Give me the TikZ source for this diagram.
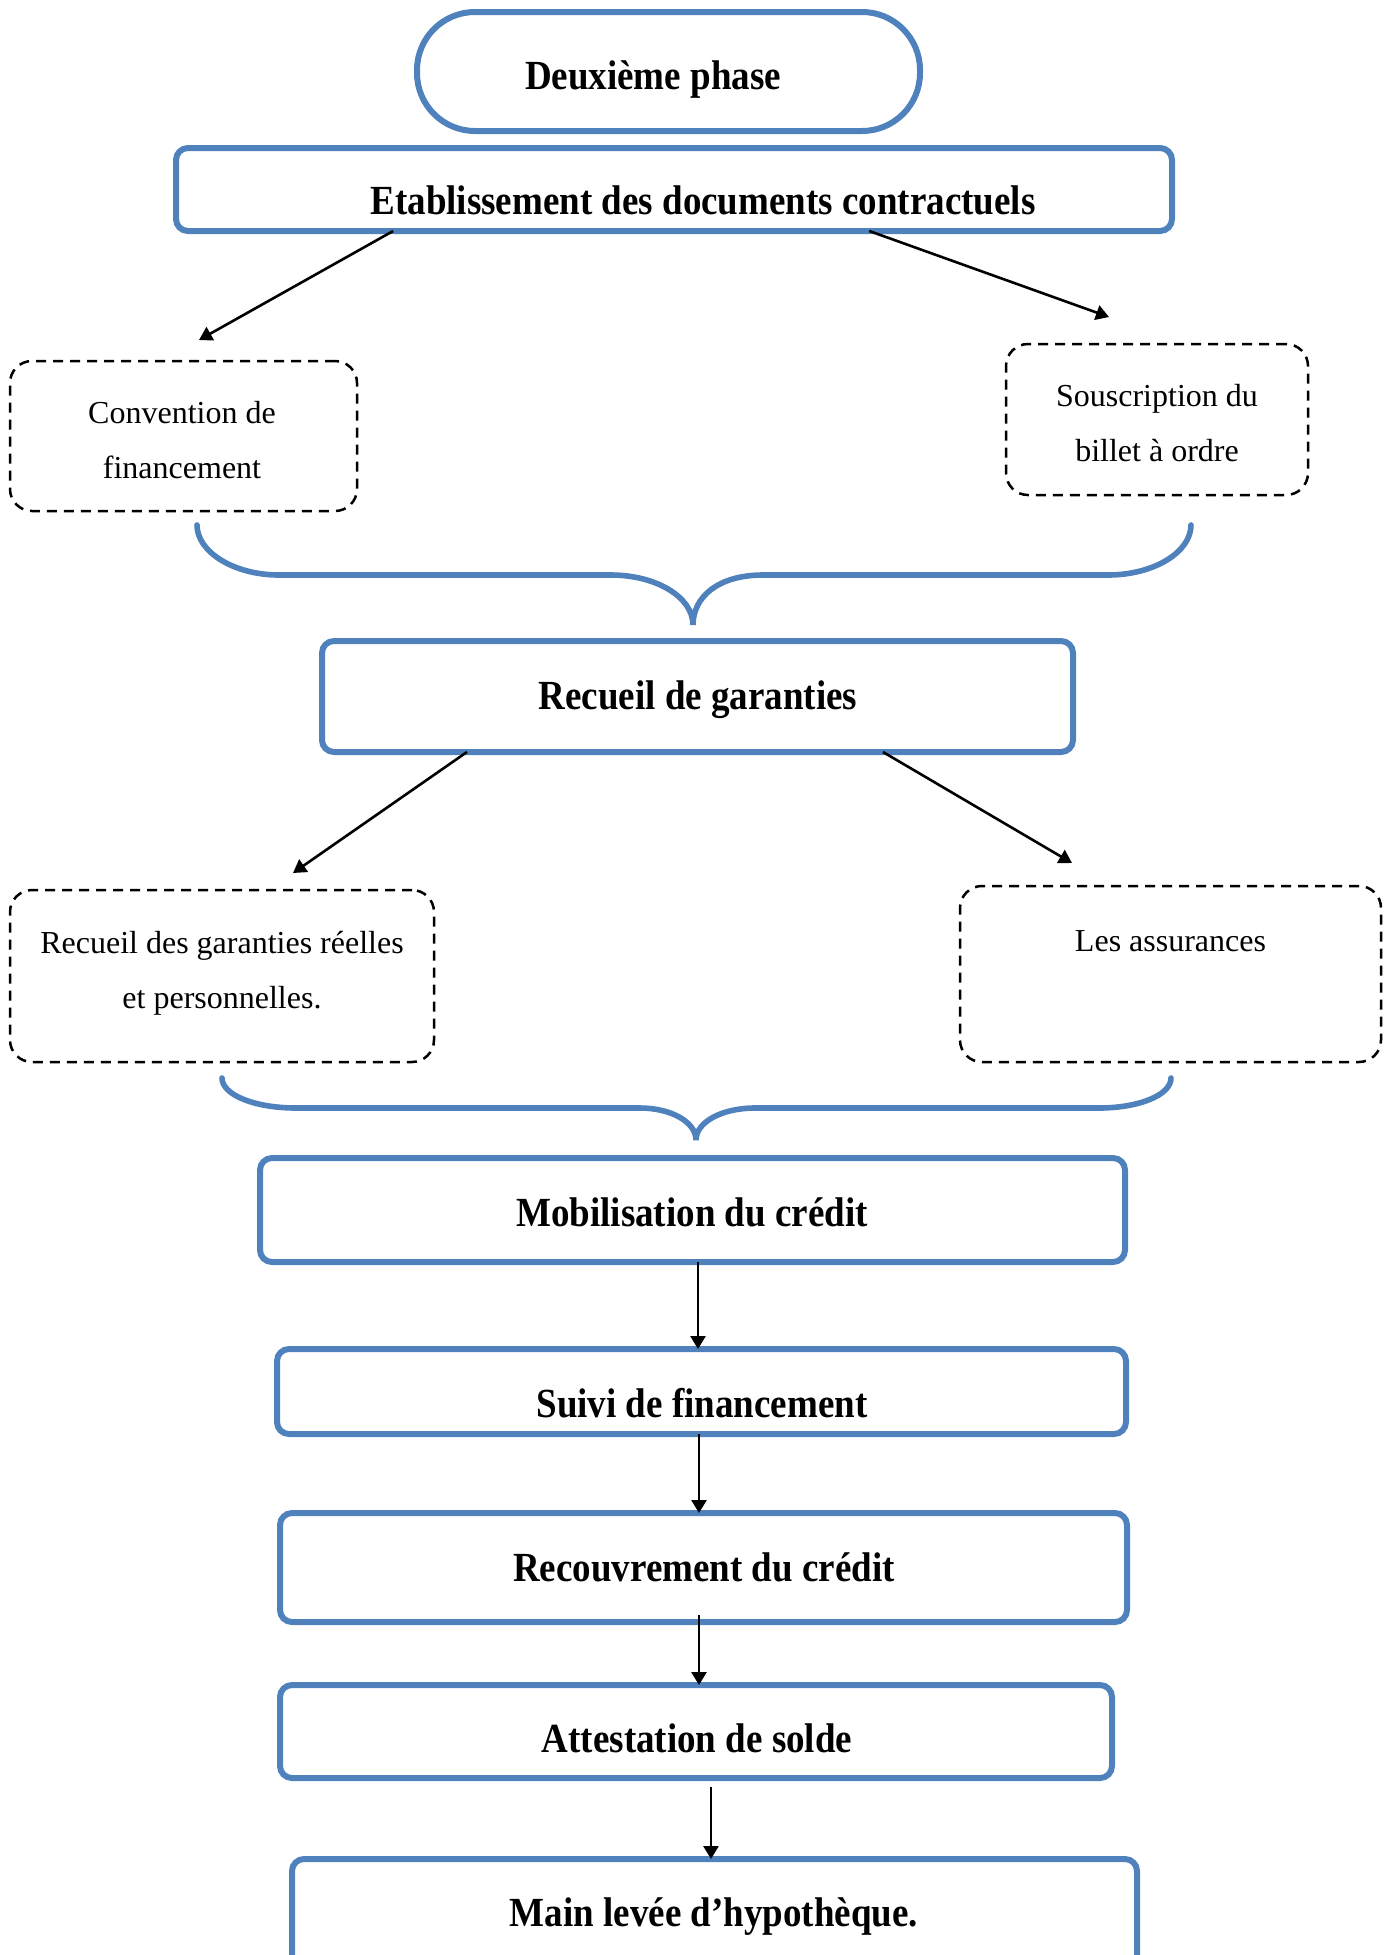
\documentclass[tikz,border=0pt]{standalone}
\usepackage{graphicx}
\usepackage{fontspec}
\setmainfont{Liberation Serif}
\usetikzlibrary{arrows.meta,calc}
\definecolor{boxblue}{HTML}{4F81BD}
% bold headings are set slightly taller than wide
\newcommand{\tallbf}[1]{\scalebox{1}[1.12]{#1}}
\begin{document}
\begin{tikzpicture}[x=0.5pt,y=-0.5pt,
  bluebox/.style={draw=boxblue,line width=3pt,rounded corners=6pt,inner sep=0pt,outer sep=0pt},
  pillbox/.style={draw=boxblue,line width=3pt,rounded corners=29pt,inner sep=0pt,outer sep=0pt},
  dashbox/.style={draw=black,line width=1.25pt,dash pattern=on 5pt off 3.5pt,rounded corners=11pt,inner sep=0pt,outer sep=0pt},
  bracepath/.style={draw=boxblue,line width=2.8pt,line cap=round},
  boldtxt/.style={font=\fontsize{18.5}{22}\selectfont\bfseries,anchor=base,inner sep=0pt},
  plaintxt/.style={font=\fontsize{16}{27.5}\selectfont,align=center,inner sep=0pt},
  arr/.style={draw=black,line width=1.3pt,-{Triangle[length=6.5pt,width=7.5pt]}}]
\useasboundingbox (0,0) rectangle (1395,1955);
\clip (0,0) rectangle (1395,1955);

% title and first stage
\node[pillbox,minimum width=251.5pt,minimum height=59.5pt] (phase) at (668.5,71.5) {};
\node[boldtxt] (phaseT) at (653,89) {\tallbf{Deuxième phase}};
\node[bluebox,minimum width=498pt,minimum height=41.5pt] (etab) at (674,189.5) {};
\node[boldtxt] (etabT) at (703,214) {\tallbf{Etablissement des documents contractuels}};

% contractual documents
\node[dashbox,minimum width=173.5pt,minimum height=75pt] (conv) at (183.5,436) {};
\node[plaintxt] (convT) at (182,440) {Convention de\\financement};
\node[dashbox,minimum width=151pt,minimum height=75.5pt] (sousc) at (1157,419.5) {};
\node[plaintxt] (souscT) at (1157,423.5) {Souscription du\\billet à ordre};

\coordinate (e1) at (199,340);
\coordinate (e2) at (1109,317);
\draw[arr] ($(etab.south west)!0.218!(etab.south east)$) -- (e1);
\draw[arr] ($(etab.south west)!0.696!(etab.south east)$) -- (e2);

% first brace
\path[bracepath] (197,525) .. controls (197,552) and (234,575) .. (279,575)
  -- (611,575) .. controls (656,575) and (693,597) .. (693,625)
  .. controls (693,597) and (718,575) .. (763,575)
  -- (1108,575) .. controls (1154,575) and (1191,552) .. (1191,525);

% guarantees
\node[bluebox,minimum width=375.5pt,minimum height=55.5pt] (recg) at (697.5,696.5) {};
\node[boldtxt] (recgT) at (698,709) {\tallbf{Recueil de garanties}};

\node[dashbox,minimum width=212pt,minimum height=86pt] (reel) at (222,976) {};
\node[plaintxt] (reelT) at (222,973) {Recueil des garanties réelles\\et personnelles.};
\node[dashbox,minimum width=210.5pt,minimum height=88pt] (assur) at (1170.5,974) {};
\node[plaintxt,anchor=base] (assurT) at (1170.5,951) {Les assurances};

\coordinate (g1) at (293,873);
\coordinate (g2) at (1072,863);
\draw[arr] ($(recg.south west)!0.193!(recg.south east)$) -- (g1);
\draw[arr] ($(recg.south west)!0.747!(recg.south east)$) -- (g2);

% second brace
\path[bracepath] (222,1078) .. controls (222,1095) and (255,1108) .. (296,1108)
  -- (640,1108) .. controls (671,1108) and (696,1122) .. (696,1140)
  .. controls (696,1122) and (722,1108) .. (755,1108)
  -- (1099,1108) .. controls (1139,1108) and (1171,1095) .. (1171,1078);

% final chain
\node[bluebox,minimum width=432.5pt,minimum height=52pt] (mob) at (692.5,1210) {};
\node[boldtxt] (mobT) at (692,1226) {\tallbf{Mobilisation du crédit}};
\node[bluebox,minimum width=424.5pt,minimum height=42.5pt] (suivi) at (701.5,1391.5) {};
\node[boldtxt] (suiviT) at (702,1417) {\tallbf{Suivi de financement}};
\node[bluebox,minimum width=423.5pt,minimum height=54.5pt] (recouv) at (703.5,1567.5) {};
\node[boldtxt] (recouvT) at (704,1581) {\tallbf{Recouvrement du crédit}};
\node[bluebox,minimum width=416pt,minimum height=46.5pt] (attest) at (696,1731.5) {};
\node[boldtxt] (attestT) at (697,1752) {\tallbf{Attestation de solde}};
\node[bluebox,minimum width=422.5pt,minimum height=63pt] (main) at (714.5,1922) {};
\node[boldtxt] (mainT) at (714,1926) {\tallbf{Main levée d’hypothèque.}};

\draw[arr] ([xshift=2.75pt]mob.south) coordinate (m1) -- (m1 |- suivi.north);
\draw[arr] ([xshift=-1.25pt]suivi.south) coordinate (m2) -- (m2 |- recouv.north);
\draw[arr] ([xshift=-2.25pt,yshift=3.5pt]recouv.south) coordinate (m3) -- (m3 |- attest.north);
\draw[arr] ([xshift=7.5pt,yshift=-4.5pt]attest.south) coordinate (m4) -- (m4 |- main.north);
\end{tikzpicture}
\end{document}
